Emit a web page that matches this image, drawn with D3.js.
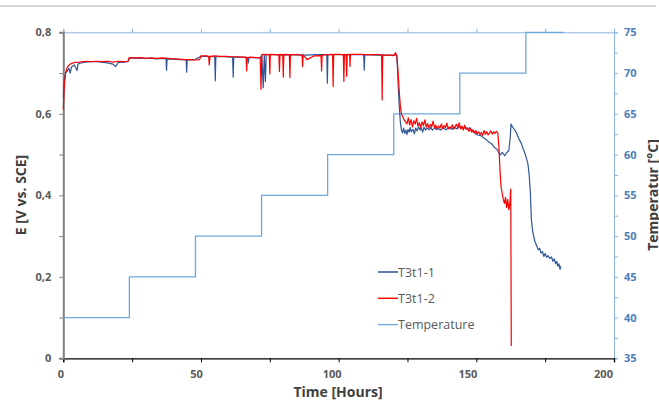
<!DOCTYPE html>
<html>
<head>
<meta charset="utf-8">
<script src="https://cdn.jsdelivr.net/npm/d3@7"></script>
<style>
  body { margin: 0; background: #fff; }
  text { font-family: "Open Sans", sans-serif; }
</style>
</head>
<body>
<svg id="svg" width="659" height="403"></svg>
<script>
// T3t1-1 (blue)
var t1Hours = [0, 0.3, 0.8, 1.5, 2, 2.5, 3, 4, 5, 5.3, 6, 8, 10, 12, 14, 16, 18, 19, 20, 22, 23.5,
  24, 26, 28, 30, 32, 34, 36, 37.3, 37.5, 37.7, 40, 42, 44.6, 44.8, 45, 47.5,
  50, 52, 55, 55.2, 55.4, 58, 61.5, 61.7, 61.9, 64, 67, 67.2, 67.4, 70, 71.5,
  72.1, 72.6, 73, 73.4, 73.7, 76, 80, 84, 88, 92, 95.7, 95.9, 96.1, 100, 104, 109.1, 109.3, 109.5, 114, 118, 121,
  121.3, 121.6, 122, 122.4, 122.8, 123.2, 123.6, 124, 124.4, 124.8, 125.2, 125.6, 126, 126.4, 127, 127.5, 128, 128.5,
  129, 129.5, 130, 130.5, 131, 131.5, 132, 133, 133.5, 134, 135, 135.5, 136, 137, 138, 139, 140, 141, 142, 143,
  144, 145, 146, 147, 147.7, 148.5, 149.5, 150.5, 151.5, 152.5, 153.5, 154.5, 155.5, 156.5, 157.5, 158.6, 159.5,
  160.3, 161, 161.8, 162.3, 162.6, 163.2, 164, 164.6, 165.5, 166.3, 166.9, 167.8, 168.7, 169.2, 169.6, 170, 170.5,
  171.3, 172, 172.5, 173, 173.5, 174, 174.5, 175, 175.5, 176, 176.7, 177.3, 177.8, 178.3, 178.8, 179.2, 179.6,
  180, 180.4, 180.7];
var t1Values = [0.64, 0.68, 0.70, 0.705, 0.712, 0.70, 0.715, 0.72, 0.706, 0.722, 0.724, 0.727, 0.728, 0.728, 0.727, 0.725, 0.722, 0.716, 0.726, 0.727, 0.728,
  0.737, 0.736, 0.737, 0.736, 0.736, 0.735, 0.736, 0.735, 0.707, 0.735, 0.734, 0.733, 0.733, 0.702, 0.733, 0.732,
  0.741, 0.741, 0.740, 0.681, 0.740, 0.740, 0.739, 0.69, 0.739, 0.739, 0.738, 0.725, 0.738, 0.738, 0.737,
  0.744, 0.664, 0.744, 0.679, 0.745, 0.745, 0.744, 0.745, 0.744, 0.745, 0.745, 0.675, 0.745, 0.745, 0.745, 0.745, 0.707, 0.745, 0.744, 0.744, 0.744,
  0.72, 0.675, 0.62, 0.58, 0.56, 0.553, 0.565, 0.552, 0.56, 0.549, 0.562, 0.555, 0.566, 0.556, 0.562, 0.551, 0.565, 0.558,
  0.568, 0.56, 0.566, 0.555, 0.567, 0.56, 0.565, 0.561, 0.567, 0.56, 0.566, 0.561, 0.564, 0.56, 0.565, 0.561, 0.566, 0.562, 0.567, 0.563,
  0.568, 0.564, 0.566, 0.562, 0.566, 0.558, 0.553, 0.548, 0.547, 0.542, 0.537, 0.531, 0.527, 0.518, 0.513, 0.499, 0.505,
  0.497, 0.504, 0.51, 0.54, 0.575, 0.567, 0.56, 0.553, 0.538, 0.528, 0.516, 0.5, 0.479, 0.45, 0.41, 0.34, 0.31,
  0.286, 0.275, 0.266, 0.27, 0.258, 0.262, 0.25, 0.257, 0.248, 0.252, 0.245, 0.249, 0.238, 0.244, 0.232, 0.238, 0.226,
  0.232, 0.218, 0.226];

// T3t1-2 (red)
var t2Hours = [0, 0.3, 0.8, 1.5, 2.5, 4, 6, 8, 10, 12, 14, 16, 18, 20, 22, 23.5,
  24, 26, 28, 30, 32, 34, 36, 38, 40, 42, 44, 46, 48, 49.5,
  50, 52, 52.8, 53, 53.3, 55, 57, 59, 61, 63, 65, 66.4, 66.6, 66.8, 68, 70, 71.5, 71.8,
  72.1, 73, 74.8, 75, 75.2, 77, 78.3, 78.5, 78.7, 79.7, 79.9, 80.1, 82.1, 82.3, 82.5, 84, 86.7, 86.9, 87.1,
  88, 88.5, 91, 93.6, 93.8, 94, 96, 97.8, 98, 98.2, 100, 101.7, 101.9, 102.1, 102.7, 102.9, 103.1, 104, 104.1, 104.3,
  106, 108, 110, 112, 114, 115.6, 115.8, 116, 118, 120, 120.7, 121.2, 121.6, 122, 122.4, 122.8, 123.3, 123.8,
  124.3, 124.8, 125.3, 125.8, 126.3, 126.8, 127.3, 127.8, 128.3, 128.8, 129.3, 129.8, 130.3, 130.8, 131.3, 131.8,
  132.3, 132.8, 133.3, 133.8, 134.3, 134.8, 135.3, 135.8, 136.3, 136.8, 137.3, 137.8, 138.3, 138.8, 139.3, 139.8,
  140.3, 140.8, 141.3, 141.8, 142.3, 142.8, 143.3, 143.8, 144.3, 144.8, 145.3, 145.8, 146.3, 146.8, 147.3, 147.8,
  148.3, 148.8, 149.3, 149.8, 150.3, 150.8, 151.3, 151.8, 152.3, 152.8, 153.3, 153.8, 154.3, 154.8, 155.3, 155.8,
  156.3, 156.8, 157.3, 157.8, 158.2, 158.6, 159, 159.4, 159.8, 160.2, 160.6, 161, 161.4, 161.8, 162.2, 162.5, 162.7];
var t2Values = [0.61, 0.66, 0.70, 0.715, 0.722, 0.726, 0.727, 0.729, 0.728, 0.729, 0.728, 0.729, 0.727, 0.729, 0.728, 0.729,
  0.738, 0.737, 0.738, 0.736, 0.737, 0.736, 0.737, 0.736, 0.735, 0.734, 0.733, 0.733, 0.732, 0.733,
  0.742, 0.742, 0.741, 0.72, 0.741, 0.742, 0.741, 0.741, 0.740, 0.740, 0.739, 0.739, 0.705, 0.738, 0.739, 0.738, 0.738, 0.66,
  0.745, 0.746, 0.745, 0.698, 0.746, 0.745, 0.745, 0.704, 0.746, 0.745, 0.69, 0.746, 0.745, 0.689, 0.745, 0.745, 0.744, 0.716, 0.744,
  0.738, 0.733, 0.742, 0.743, 0.705, 0.744, 0.745, 0.746, 0.667, 0.746, 0.746, 0.745, 0.679, 0.746, 0.745, 0.692, 0.745, 0.746, 0.716, 0.746,
  0.746, 0.746, 0.745, 0.745, 0.745, 0.745, 0.634, 0.744, 0.744, 0.743, 0.75, 0.74, 0.70, 0.655, 0.62, 0.60, 0.592, 0.585,
  0.58, 0.575, 0.59, 0.572, 0.586, 0.568, 0.583, 0.575, 0.589, 0.57, 0.578, 0.566, 0.58, 0.571, 0.585, 0.567,
  0.576, 0.565, 0.574, 0.568, 0.582, 0.566, 0.572, 0.563, 0.57, 0.565, 0.575, 0.564, 0.571, 0.566, 0.577, 0.563,
  0.568, 0.565, 0.573, 0.562, 0.569, 0.574, 0.566, 0.578, 0.563, 0.57, 0.56, 0.572, 0.562, 0.566, 0.557, 0.563,
  0.555, 0.561, 0.553, 0.559, 0.551, 0.556, 0.549, 0.554, 0.547, 0.559, 0.55, 0.556, 0.548, 0.553, 0.558, 0.55,
  0.556, 0.552, 0.557, 0.553, 0.52, 0.46, 0.42, 0.405, 0.39, 0.38, 0.395, 0.37, 0.39, 0.365, 0.38, 0.415, 0.03];

// Temperature (step profile)
var tempHours = [0, 24, 48, 72, 96, 120, 144, 168, 182];
var tempValues = [40, 45, 50, 55, 60, 65, 70, 75, 75];

var xTicks = [0, 50, 100, 150, 200];
var yTicks = [0, 0.2, 0.4, 0.6, 0.8];
var tempTicks = [35, 40, 45, 50, 55, 60, 65, 70, 75];

var seriesNames = ["T3t1-1", "T3t1-2", "Temperature"];
var seriesColors = ["#2f5597", "#ff0000", "#6fa8dc"];

(function() {
  'use strict';

  var svg = d3.select("#svg");

  var plotLeft = 63.3, plotRight = 614, plotTop = 32.3, plotBottom = 358.3;

  var x = d3.scaleLinear().domain([0, 200]).range([plotLeft, plotRight]);
  var y = d3.scaleLinear().domain([0, 0.8]).range([plotBottom, plotTop]);
  var yT = d3.scaleLinear().domain([35, 75]).range([plotBottom, plotTop]);

  // thin grey rule at the very top
  svg.append("line")
    .attr("x1", 0).attr("x2", 656).attr("y1", 6).attr("y2", 6)
    .attr("stroke", "#c8c8c8").attr("stroke-width", 1.5);

  // top (secondary) x axis: light blue, ticks only
  var topAxis = svg.append("g")
    .attr("transform", "translate(0," + plotTop + ")")
    .call(d3.axisTop(x).tickValues(d3.range(0, 201, 25)).tickSize(3.5).tickFormat(""));
  topAxis.select(".domain").attr("stroke", "#8db4e2");
  topAxis.selectAll(".tick line").attr("stroke", "#8db4e2");

  // right axis: temperature
  var rightAxis = svg.append("g")
    .attr("transform", "translate(" + plotRight + ",0)")
    .call(d3.axisRight(yT).tickValues(d3.range(35, 75.1, 2.5)).tickSize(4)
      .tickFormat(function(d) { return tempTicks.indexOf(d) >= 0 ? d : ""; }));
  rightAxis.select(".domain").attr("stroke", "#8db4e2");
  rightAxis.selectAll(".tick line").attr("stroke", "#8db4e2");
  rightAxis.selectAll(".tick text")
    .attr("x", 10).attr("fill", "#4a7ebb")
    .style("font-family", "Open Sans").style("font-size", "11px").style("font-weight", "bold");

  // bottom axis (labels sit a little left of their ticks, as in the original)
  var bottomAxis = svg.append("g")
    .attr("transform", "translate(0," + plotBottom + ")")
    .call(d3.axisBottom(x).tickValues(d3.range(0, 201, 25)).tickSize(4)
      .tickFormat(function(d) { return xTicks.indexOf(d) >= 0 ? d : ""; }));
  bottomAxis.select(".domain").attr("stroke", "#000").attr("stroke-width", 1.3);
  bottomAxis.selectAll(".tick line").attr("stroke", "#000");
  bottomAxis.selectAll(".tick text")
    .attr("y", 12)
    .attr("x", function(d) { return -3 - d * 0.04; })
    .attr("fill", "#595959")
    .style("font-family", "Open Sans").style("font-size", "11px").style("font-weight", "bold");

  // left axis
  var leftAxis = svg.append("g")
    .attr("transform", "translate(" + plotLeft + ",0)")
    .call(d3.axisLeft(y).tickValues(d3.range(0, 9).map(function(i) { return i / 10; })).tickSize(4)
      .tickFormat(function(d) {
        var hit = yTicks.filter(function(v) { return Math.abs(v - d) < 1e-9; });
        return hit.length ? String(+d.toFixed(1)).replace(".", ",") : "";
      }));
  leftAxis.select(".domain").attr("stroke", "#808080").attr("stroke-width", 2);
  leftAxis.selectAll(".tick line").attr("stroke", "#808080");
  leftAxis.selectAll(".tick text")
    .attr("x", -12).attr("fill", "#595959")
    .style("font-family", "Open Sans").style("font-size", "11px").style("font-weight", "bold");

  svg.selectAll(".domain").attr("fill", "none");

  // lines
  var line = d3.line()
    .x(function(d) { return x(d[0]); })
    .y(function(d) { return y(d[1]); });

  var tempLine = d3.line()
    .curve(d3.curveStepAfter)
    .x(function(d) { return x(d[0]); })
    .y(function(d) { return yT(d[1]); });

  svg.append("path")
    .attr("d", tempLine(d3.zip(tempHours, tempValues)))
    .attr("fill", "none").attr("stroke", seriesColors[2]).attr("stroke-width", 1.3);

  svg.append("path")
    .attr("d", line(d3.zip(t1Hours, t1Values)))
    .attr("fill", "none").attr("stroke", seriesColors[0]).attr("stroke-width", 1.2)
    .attr("stroke-linejoin", "round");

  svg.append("path")
    .attr("d", line(d3.zip(t2Hours, t2Values)))
    .attr("fill", "none").attr("stroke", seriesColors[1]).attr("stroke-width", 1.2)
    .attr("stroke-linejoin", "round");

  // axis titles
  svg.append("text")
    .attr("transform", "translate(26,195) rotate(-90)")
    .attr("text-anchor", "middle")
    .attr("fill", "#404040").style("font-size", "14px").style("font-weight", "bold")
    .text("E [V vs. SCE]");

  svg.append("text")
    .attr("x", 338).attr("y", 397)
    .attr("text-anchor", "middle")
    .attr("fill", "#404040").style("font-size", "14px").style("font-weight", "bold")
    .text("Time [Hours]");

  svg.append("text")
    .attr("transform", "translate(658,195) rotate(-90)")
    .attr("text-anchor", "middle")
    .attr("fill", "#404040").style("font-size", "14px").style("font-weight", "bold")
    .text("Temperatur [°C]");

  // legend
  var legend = svg.append("g").attr("transform", "translate(378,272)");
  seriesNames.forEach(function(name, i) {
    var g = legend.append("g").attr("transform", "translate(0," + (i * 26.3) + ")");
    g.append("line").attr("x1", 0).attr("x2", 20).attr("y1", 0).attr("y2", 0)
      .attr("stroke", seriesColors[i]).attr("stroke-width", i === 2 ? 1.3 : 1.5);
    g.append("text").attr("x", 20).attr("y", 4.5)
      .attr("fill", "#595959").style("font-size", "12.5px")
      .text(name);
  });
}());
</script>
</body>
</html>
